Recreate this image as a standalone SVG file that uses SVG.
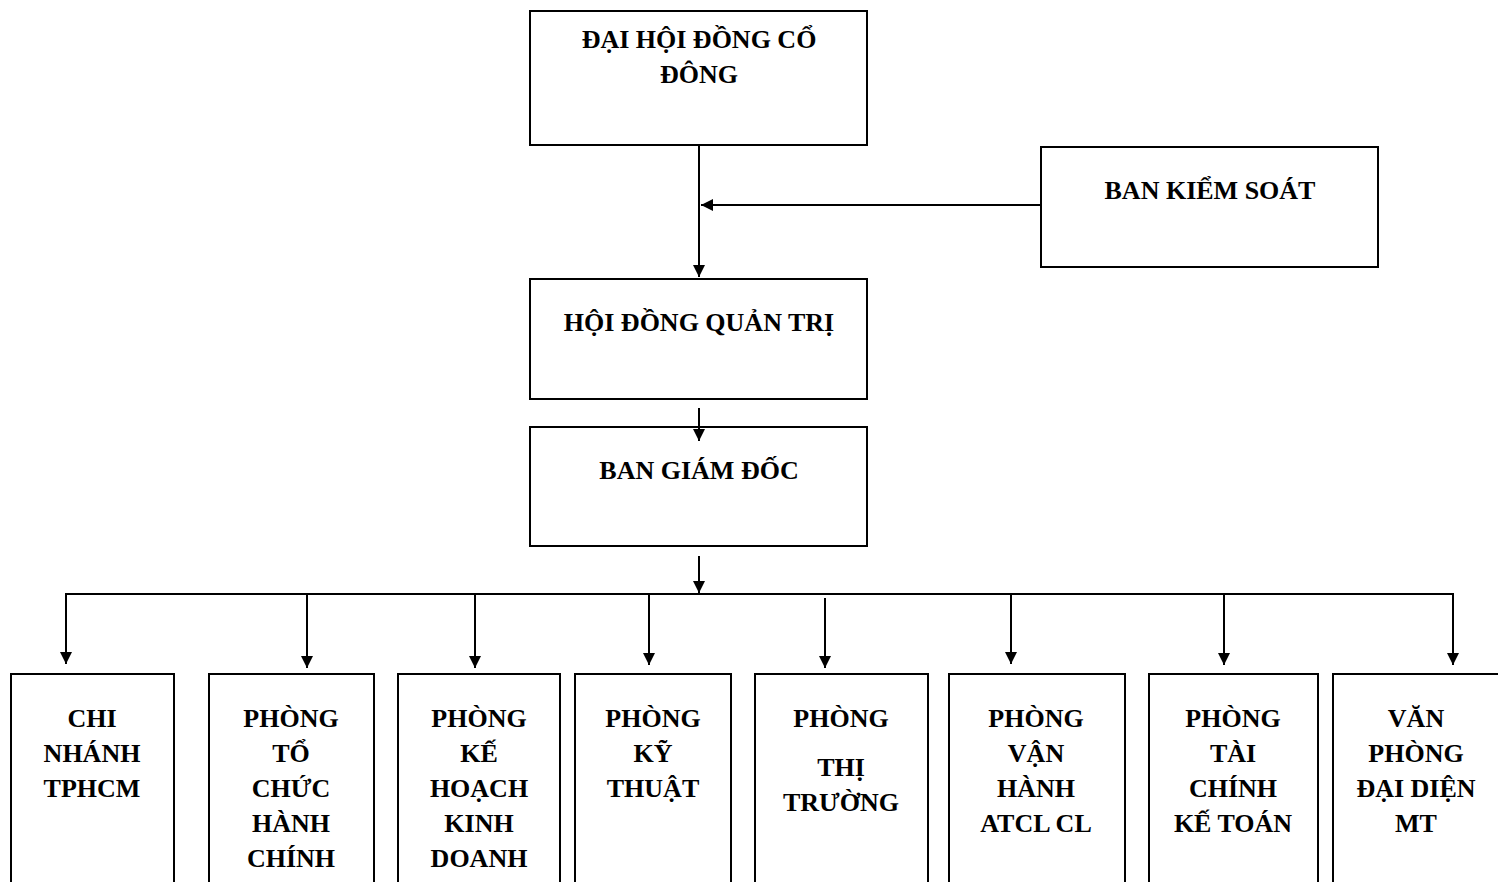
<svg xmlns="http://www.w3.org/2000/svg" width="1498" height="882" viewBox="0 0 1498 882">
<style>
.box{fill:#fff;stroke:#000;stroke-width:2}
.t{font-family:"Liberation Serif","Times New Roman",serif;font-weight:bold;font-size:26px;fill:#000;text-anchor:middle}
.c{fill:none;stroke:#000;stroke-width:2}
</style>
<defs>
<marker id="ah" viewBox="0 0 10 10" refX="10" refY="5" markerUnits="userSpaceOnUse" markerWidth="14" markerHeight="12" orient="auto">
<path d="M0,0 L10,5 L0,10 z" fill="#000"/>
</marker>
</defs>
<rect width="1498" height="882" fill="#fff"/>
<g id="n-dhdcd"><rect class="box" x="530" y="11" width="337" height="134"/>
<text class="t" x="699" y="48">ĐẠI HỘI ĐỒNG CỔ</text><text class="t" x="699" y="83">ĐÔNG</text></g>
<g id="n-bks"><rect class="box" x="1041" y="147" width="337" height="120"/>
<text class="t" x="1210" y="199">BAN KIỂM SOÁT</text></g>
<g id="n-hdqt"><rect class="box" x="530" y="279" width="337" height="120"/>
<text class="t" x="699" y="331">HỘI ĐỒNG QUẢN TRỊ</text></g>
<g id="n-bgd"><rect class="box" x="530" y="427" width="337" height="119"/>
<text class="t" x="699" y="479">BAN GIÁM ĐỐC</text></g>
<g id="n-cn"><rect class="box" x="11" y="674" width="163" height="220"/>
<text class="t" x="92" y="727">CHI</text><text class="t" x="92" y="762">NHÁNH</text><text class="t" x="92" y="797">TPHCM</text></g>
<g id="n-tchc"><rect class="box" x="209" y="674" width="165" height="220"/>
<text class="t" x="291" y="727">PHÒNG</text><text class="t" x="291" y="762">TỔ</text><text class="t" x="291" y="797">CHỨC</text><text class="t" x="291" y="832">HÀNH</text><text class="t" x="291" y="867">CHÍNH</text></g>
<g id="n-khkd"><rect class="box" x="398" y="674" width="162" height="220"/>
<text class="t" x="479" y="727">PHÒNG</text><text class="t" x="479" y="762">KẾ</text><text class="t" x="479" y="797">HOẠCH</text><text class="t" x="479" y="832">KINH</text><text class="t" x="479" y="867">DOANH</text></g>
<g id="n-kt"><rect class="box" x="575" y="674" width="156" height="220"/>
<text class="t" x="653" y="727">PHÒNG</text><text class="t" x="653" y="762">KỸ</text><text class="t" x="653" y="797">THUẬT</text></g>
<g id="n-tt"><rect class="box" x="755" y="674" width="173" height="220"/>
<text class="t" x="841" y="727">PHÒNG</text><text class="t" x="841" y="776">THỊ</text><text class="t" x="841" y="811">TRƯỜNG</text></g>
<g id="n-vh"><rect class="box" x="949" y="674" width="176" height="220"/>
<text class="t" x="1036" y="727">PHÒNG</text><text class="t" x="1036" y="762">VẬN</text><text class="t" x="1036" y="797">HÀNH</text><text class="t" x="1036" y="832">ATCL CL</text></g>
<g id="n-tckt"><rect class="box" x="1149" y="674" width="169" height="220"/>
<text class="t" x="1233" y="727">PHÒNG</text><text class="t" x="1233" y="762">TÀI</text><text class="t" x="1233" y="797">CHÍNH</text><text class="t" x="1233" y="832">KẾ TOÁN</text></g>
<g id="n-vpdd"><rect class="box" x="1333" y="674" width="170" height="220"/>
<text class="t" x="1416" y="727">VĂN</text><text class="t" x="1416" y="762">PHÒNG</text><text class="t" x="1416" y="797">ĐẠI DIỆN</text><text class="t" x="1416" y="832">MT</text></g>
<g id="connectors">
<line class="c" x1="699" y1="145" x2="699" y2="277" marker-end="url(#ah)"/>
<line class="c" x1="1041" y1="205" x2="701" y2="205" marker-end="url(#ah)"/>
<line class="c" x1="699" y1="408" x2="699" y2="441" marker-end="url(#ah)"/>
<line class="c" x1="699" y1="556" x2="699" y2="593" marker-end="url(#ah)"/>
<line class="c" x1="66" y1="594" x2="1453" y2="594"/>
<line class="c" x1="66" y1="593" x2="66" y2="664" marker-end="url(#ah)"/>
<line class="c" x1="307" y1="594" x2="307" y2="668" marker-end="url(#ah)"/>
<line class="c" x1="475" y1="594" x2="475" y2="668" marker-end="url(#ah)"/>
<line class="c" x1="649" y1="594" x2="649" y2="665" marker-end="url(#ah)"/>
<line class="c" x1="825" y1="598" x2="825" y2="668" marker-end="url(#ah)"/>
<line class="c" x1="1011" y1="594" x2="1011" y2="664" marker-end="url(#ah)"/>
<line class="c" x1="1224" y1="594" x2="1224" y2="665" marker-end="url(#ah)"/>
<line class="c" x1="1453" y1="593" x2="1453" y2="665" marker-end="url(#ah)"/>
</g>
</svg>
